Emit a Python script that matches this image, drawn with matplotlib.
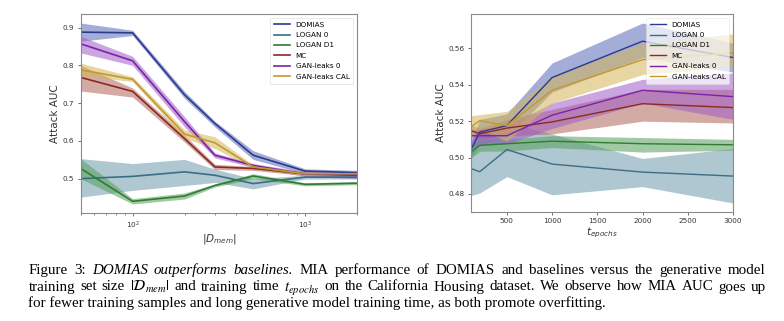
import numpy as np
import matplotlib
matplotlib.use("Agg")
import matplotlib.pyplot as plt

# ---------------- data ----------------
series = ["DOMIAS", "LOGAN 0", "LOGAN D1", "MC", "GAN-leaks 0", "GAN-leaks CAL"]
colors = ["#2b3990", "#3b6e84", "#2f7d32", "#8c2a1f", "#7b22a8", "#c19a2c"]
band_colors = ["#5a6ab8", "#6e9aab", "#55a05a", "#b0655a", "#a05cc8", "#d4b55a"]

# left panel: training set size
mem_sizes = [50, 100, 200, 300, 500, 1000, 2000]
mem_mean = {
    "DOMIAS":        [0.888, 0.886, 0.722, 0.646, 0.562, 0.520, 0.516],
    "LOGAN 0":       [0.500, 0.506, 0.518, 0.509, 0.487, 0.504, 0.504],
    "LOGAN D1":      [0.527, 0.440, 0.454, 0.482, 0.507, 0.485, 0.488],
    "MC":            [0.768, 0.731, 0.606, 0.531, 0.527, 0.513, 0.511],
    "GAN-leaks 0":   [0.857, 0.812, 0.651, 0.562, 0.535, 0.512, 0.509],
    "GAN-leaks CAL": [0.788, 0.763, 0.618, 0.595, 0.531, 0.513, 0.513],
}
mem_lo = {
    "DOMIAS":        [0.864, 0.879, 0.713, 0.637, 0.551, 0.513, 0.509],
    "LOGAN 0":       [0.451, 0.469, 0.482, 0.490, 0.473, 0.499, 0.499],
    "LOGAN D1":      [0.500, 0.433, 0.446, 0.478, 0.500, 0.481, 0.484],
    "MC":            [0.732, 0.716, 0.597, 0.524, 0.522, 0.508, 0.506],
    "GAN-leaks 0":   [0.833, 0.800, 0.637, 0.555, 0.530, 0.506, 0.500],
    "GAN-leaks CAL": [0.773, 0.757, 0.607, 0.580, 0.526, 0.508, 0.508],
}
mem_hi = {
    "DOMIAS":        [0.912, 0.893, 0.731, 0.652, 0.574, 0.526, 0.522],
    "LOGAN 0":       [0.553, 0.540, 0.551, 0.525, 0.500, 0.509, 0.509],
    "LOGAN D1":      [0.553, 0.447, 0.462, 0.486, 0.513, 0.489, 0.492],
    "MC":            [0.800, 0.740, 0.615, 0.538, 0.532, 0.518, 0.516],
    "GAN-leaks 0":   [0.877, 0.824, 0.664, 0.568, 0.540, 0.518, 0.516],
    "GAN-leaks CAL": [0.806, 0.770, 0.629, 0.611, 0.536, 0.518, 0.518],
}

# right panel: training epochs
epochs = [100, 200, 500, 1000, 2000, 3000]
ep_mean = {
    "DOMIAS":        [0.504, 0.514, 0.5176, 0.544, 0.564, 0.555],
    "LOGAN 0":       [0.4940, 0.4922, 0.5044, 0.4964, 0.492, 0.4898],
    "LOGAN D1":      [0.503, 0.5067, 0.5076, 0.509, 0.5076, 0.507],
    "MC":            [0.5149, 0.5131, 0.5162, 0.5196, 0.5296, 0.5275],
    "GAN-leaks 0":   [0.512, 0.512, 0.512, 0.5233, 0.537, 0.5335],
    "GAN-leaks CAL": [0.5167, 0.5203, 0.5176, 0.537, 0.5538, 0.5575],
}
ep_lo = {
    "DOMIAS":        [0.500, 0.507, 0.511, 0.536, 0.555, 0.547],
    "LOGAN 0":       [0.479, 0.4805, 0.4895, 0.4795, 0.484, 0.475],
    "LOGAN D1":      [0.4995, 0.5035, 0.5036, 0.5055, 0.503, 0.504],
    "MC":            [0.512, 0.510, 0.512, 0.513, 0.520, 0.519],
    "GAN-leaks 0":   [0.506, 0.507, 0.5075, 0.516, 0.530, 0.521],
    "GAN-leaks CAL": [0.5103, 0.5155, 0.509, 0.530, 0.5456, 0.550],
}
ep_hi = {
    "DOMIAS":        [0.508, 0.521, 0.524, 0.552, 0.574, 0.563],
    "LOGAN 0":       [0.508, 0.514, 0.519, 0.513, 0.4995, 0.505],
    "LOGAN D1":      [0.5065, 0.510, 0.510, 0.512, 0.511, 0.510],
    "MC":            [0.518, 0.516, 0.521, 0.5265, 0.5375, 0.5375],
    "GAN-leaks 0":   [0.515, 0.516, 0.5175, 0.530, 0.543, 0.5465],
    "GAN-leaks CAL": [0.523, 0.5236, 0.5254, 0.5447, 0.563, 0.568],
}

caption_lines = [
    [("Figure", "n"), ("3:", "n"), ("DOMIAS", "i"), ("outperforms", "i"), ("baselines.", "i"),
     ("MIA", "n"), ("performance", "n"), ("of", "n"), ("DOMIAS", "n"), ("and", "n"),
     ("baselines", "n"), ("versus", "n"), ("the", "n"), ("generative", "n"), ("model", "n")],
    [("training", "n"), ("set", "n"), ("size", "n"), (r"$|\mathcal{D}_{mem}|$", "m"), ("and", "n"),
     ("training", "n"), ("time", "n"), (r"$t_{epochs}$", "m"), ("on", "n"), ("the", "n"),
     ("California", "n"), ("Housing", "n"), ("dataset.", "n"), ("We", "n"), ("observe", "n"),
     ("how", "n"), ("MIA", "n"), ("AUC", "n"), ("goes", "n"), ("up", "n")],
    [("for fewer training samples and long generative model training time, as both promote overfitting.", "n")],
]

# ---------------- figure ----------------
W, H = 784, 321
fig = plt.figure(figsize=(W / 100, H / 100), dpi=100)
fig.patch.set_facecolor("white")

axL = fig.add_axes([80.7 / W, 1 - 213 / H, 276.3 / W, 199 / H])
axR = fig.add_axes([470.7 / W, 1 - 212 / H, 262.3 / W, 198 / H])

def style_axes(ax):
    for s in ax.spines.values():
        s.set_color("#8a8a8a")
        s.set_linewidth(0.8)
    ax.tick_params(axis="both", which="both", labelsize=5.2, colors="#555555",
                   labelcolor="#333333", length=2.5, width=0.6, pad=2)
    ax.tick_params(axis="both", which="minor", length=1.6, width=0.5)

leg_kw = dict(loc="upper right", fontsize=5.2, frameon=True,
              edgecolor="#dddddd", handlelength=2.2, labelspacing=0.6,
              borderpad=0.55, handletextpad=0.8)

for name, c, bc in zip(series, colors, band_colors):
    axL.fill_between(mem_sizes, mem_lo[name], mem_hi[name], color=bc, alpha=0.55, lw=0)
    axL.plot(mem_sizes, mem_mean[name], color=c, lw=1.2, label=name)
axL.set_xscale("log")
axL.set_xlim(mem_sizes[0], mem_sizes[-1])
axL.set_yticks([0.5, 0.6, 0.7, 0.8, 0.9])
axL.set_ylabel("Attack AUC", fontsize=7.5, color="#333333", labelpad=2)
axL.set_xlabel(r"$|D_{mem}|$", fontsize=7.5, color="#333333", labelpad=1)
style_axes(axL)
legL = axL.legend(framealpha=0.9, **leg_kw)
legL.get_frame().set_linewidth(0.5)

for name, c, bc in zip(series, colors, band_colors):
    axR.fill_between(epochs, ep_lo[name], ep_hi[name], color=bc, alpha=0.55, lw=0)
    axR.plot(epochs, ep_mean[name], color=c, lw=1.0, label=name)
axR.set_xlim(epochs[0], epochs[-1])
axR.set_yticks([0.48, 0.50, 0.52, 0.54, 0.56])
axR.set_xticks([500, 1000, 1500, 2000, 2500, 3000])
axR.set_ylabel("Attack AUC", fontsize=7.5, color="#333333", labelpad=2)
axR.set_xlabel(r"$t_{epochs}$", fontsize=7.5, color="#333333", labelpad=1)
style_axes(axR)
legR = axR.legend(framealpha=0.7, **leg_kw)
legR.get_frame().set_linewidth(0.5)

# ---------------- caption (justified) ----------------
cap_fs = 10.8
left_px, right_px = 28.5, 766
baselines = [274, 290.5, 307]
renderer = fig.canvas.get_renderer()

def make_text(tok, kind, x, y):
    kw = dict(fontsize=cap_fs, family="Liberation Serif", color="black",
              va="baseline", ha="left", transform=None)
    if kind == "i":
        kw["style"] = "italic"
    if kind == "m":
        kw["math_fontfamily"] = "stix"
    return fig.text(x, y, tok, **kw)

for li, line in enumerate(caption_lines):
    y = H - baselines[li]
    texts = [make_text(tok, kind, 0, y) for tok, kind in line]
    widths = [t.get_window_extent(renderer).width for t in texts]
    if li < 2 and len(texts) > 1:
        gap = (right_px - left_px - sum(widths)) / (len(texts) - 1)
    else:
        gap = 0
    x = left_px
    for t, w in zip(texts, widths):
        t.set_x(x)
        x += w + gap

fig.savefig("out.png", dpi=100, facecolor="white")
